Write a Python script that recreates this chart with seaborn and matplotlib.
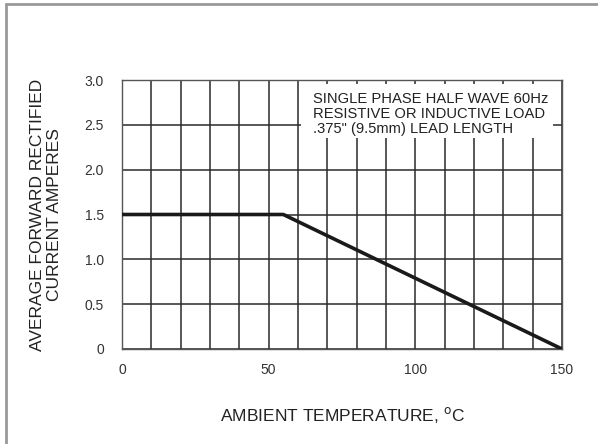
import numpy as np
import pandas as pd
import seaborn as sns
import matplotlib.pyplot as plt
from matplotlib.patches import Rectangle
from matplotlib.lines import Line2D

# derating curve: ambient temperature (C) vs average forward current (A)
temp_c = [0, 55, 150]
current_a = [1.5, 1.5, 0]

x_ticks = [0, 50, 100, 150]
x_ticklabels = ["0", "50", "100", "150"]
y_ticks = [0, 0.5, 1.0, 1.5, 2.0, 2.5, 3.0]
y_ticklabels = ["0", "0.5", "1.0", "1.5", "2.0", "2.5", "3.0"]

note_lines = ["SINGLE PHASE HALF WAVE 60Hz",
              "RESISTIVE OR INDUCTIVE LOAD",
              ".375\" (9.5mm) LEAD LENGTH"]

df = pd.DataFrame({"temp": temp_c, "current": current_a})

sns.set_style("white")
plt.rcParams['font.family'] = ['Liberation Sans', 'DejaVu Sans']

fig = plt.figure(figsize=(5.98, 4.44), dpi=100)
ax = fig.add_axes([122 / 598, 1 - 349 / 444, 440 / 598, 269 / 444])

ax.set_xlim(0, 150)
ax.set_ylim(0, 3.0)
ax.set_xticks(x_ticks)
ax.set_xticklabels(x_ticklabels)
ax.set_xticks(np.arange(0, 151, 10), minor=True)
ax.set_yticks(y_ticks)
ax.set_yticklabels(y_ticklabels)
ax.grid(True, which="both", color="#2a2a2a", lw=1.1, zorder=1)
ax.tick_params(which="both", length=0, labelsize=10, colors="#333333")
ax.tick_params(axis="y", pad=13)
ax.tick_params(axis="x", pad=10)
for s in ax.spines.values():
    s.set_color("#555555")
    s.set_linewidth(1.0)

# white box for the note, hides the grid behind it
ax.add_patch(Rectangle((61, 2.35), 86, 0.6, facecolor="white", edgecolor="none", zorder=2))
ax.text(65, 2.87, "\n".join(note_lines), fontsize=10.6, color="#222222",
        va="top", ha="left", linespacing=1.1, zorder=3)

sns.lineplot(data=df, x="temp", y="current", ax=ax, color="#1a1a1a", lw=2.6, zorder=4)

ax.set_xlabel("AMBIENT TEMPERATURE, $^{\\rm o}$C", fontsize=12.5, color="#222222", labelpad=20)
ax.set_ylabel("AVERAGE FORWARD RECTIFIED\nCURRENT AMPERES", fontsize=12.5, color="#222222",
              labelpad=16, linespacing=1.2)

# gray frame along top and left of the picture
fig.add_artist(Line2D([6 / 598, 1], [1 - 4 / 444, 1 - 4 / 444], transform=fig.transFigure,
                      color="#999999", lw=2))
fig.add_artist(Line2D([6 / 598, 6 / 598], [0, 1 - 4 / 444], transform=fig.transFigure,
                      color="#999999", lw=2))

fig.savefig("out.png", dpi=100)
